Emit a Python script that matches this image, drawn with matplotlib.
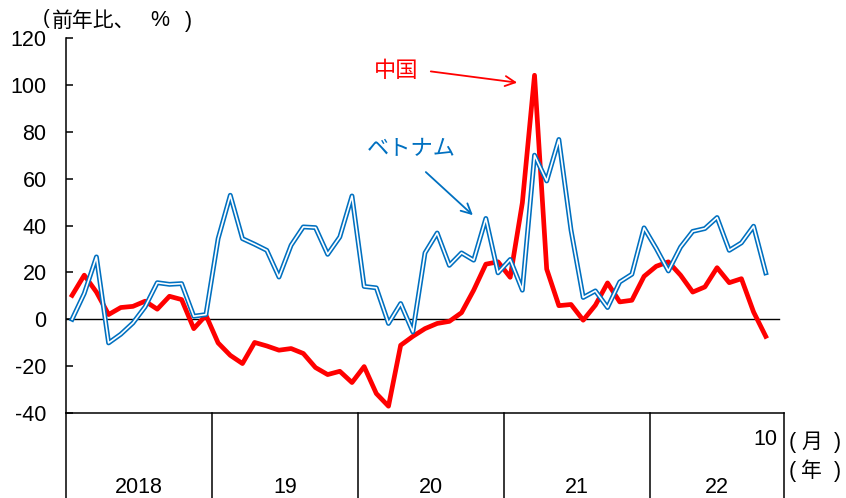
import matplotlib
matplotlib.use("Agg")
import matplotlib.pyplot as plt

plt.rcParams["font.family"] = ["Liberation Sans", "Noto Sans CJK JP", "DejaVu Sans"]
plt.rcParams["axes.unicode_minus"] = False

# monthly, Jan 2018 - Oct 2022 (y/y, %)
china = [10.2, 18.8, 11.6, 2.0, 5.0, 5.5, 7.7, 4.3, 9.8, 8.4, -4.0, 1.7,
         -10.1, -15.4, -18.9, -9.9, -11.4, -13.2, -12.5, -14.6, -20.6, -23.6, -22.2, -27.0,
         -20.2, -31.7, -37.1, -11.1, -7.3, -4.0, -1.8, -0.9, 2.8, 12.4, 23.5, 24.5,
         17.9, 49.7, 104.1, 21.4, 5.8, 6.3, -0.4, 6.0, 15.5, 7.4, 8.1, 18.3,
         22.6, 24.5, 18.8, 11.6, 13.8, 22.0, 15.6, 17.3, 3.1, -7.3]
vietnam = [0.0, 11.0, 26.6, -10.1, -6.4, -1.6, 5.3, 15.6, 14.9, 15.2, 1.3, 2.0,
           34.4, 52.9, 34.4, 32.0, 29.4, 18.0, 31.6, 39.4, 39.1, 27.7, 35.1, 52.6,
           14.0, 13.4, -1.8, 6.7, -5.4, 28.3, 36.8, 23.0, 28.3, 25.2, 43.0, 19.8,
           25.5, 12.4, 70.0, 59.0, 76.7, 38.0, 9.3, 12.1, 5.0, 15.9, 19.2, 39.0,
           30.2, 20.6, 30.8, 37.5, 38.7, 43.4, 29.4, 32.6, 39.7, 19.8]
year_labels = ["2018", "19", "20", "21", "22"]
yticks = [-40, -20, 0, 20, 40, 60, 80, 100, 120]

RED = "#ff0000"
BLUE = "#0070c0"
W, H = 846, 498


def ptext(px, py, s, **kw):
    # place text by pixel position in the figure
    fig.text(px / W, 1 - py / H, s, va="center", **kw)


fig = plt.figure(figsize=(W / 100, H / 100), dpi=100)
ax = fig.add_axes([66 / W, 85 / H, 718 / W, 375 / H])
ax.set_xlim(-0.5, 58.5)
ax.set_ylim(-40, 120)

x = list(range(len(china)))
ax.axhline(0, xmin=0, xmax=(58.1 + 0.5) / 59, color="black", lw=1.0, zorder=1)
ax.plot(x, china, color=RED, lw=3.4, zorder=3, solid_joinstyle="round")
ax.plot(x, vietnam, color=BLUE, lw=3.5, zorder=4)
ax.plot(x, vietnam, color="white", lw=1.2, zorder=5)

for s in ["top", "right", "bottom"]:
    ax.spines[s].set_visible(False)
ax.spines["left"].set_linewidth(1.1)
ax.set_xticks([])
ax.set_yticks(yticks)
ax.set_yticklabels([str(v) for v in yticks])
ax.tick_params(axis="y", direction="in", length=5, width=1.1, pad=14, labelsize=15.5)

# year boxes under the plot
bounds = [-0.5, 11.5, 23.5, 35.5, 47.5, 58.5]
ax.plot([-0.5, 58.5], [-40, -40], color="black", lw=1.1, clip_on=False)
for xb in bounds:
    ax.plot([xb, xb], [-40, -80], color="black", lw=1.1, clip_on=False)
for i, lab in enumerate(year_labels):
    ax.text((bounds[i] + bounds[i + 1]) / 2, -71.6, lab, ha="center", va="center",
            fontsize=15.5, clip_on=False)
ax.text(57, -51.5, "10", ha="center", va="center", fontsize=15.5, clip_on=False)

ptext(789, 442, "(", fontsize=15.5)
ptext(801, 442, "月", fontsize=15)
ptext(834, 442, ")", fontsize=15.5)
ptext(789, 471, "(", fontsize=15.5)
ptext(801, 471, "年", fontsize=15)
ptext(834, 471, ")", fontsize=15.5)

ptext(43, 18, "(", fontsize=14.5)
ptext(52, 21, "前年比、", fontsize=15)
ptext(150, 21, "%", fontsize=15.5)
ptext(185, 21, ")", fontsize=15.5)

# annotations
ax.annotate("", xy=(36.8, 100.8), xytext=(29.25, 105.9),
            arrowprops=dict(arrowstyle="->", color=RED, lw=1.3, mutation_scale=18))
ax.text(26.6, 105.8, "中国", color=RED, ha="center", va="center", fontsize=16)
ax.annotate("", xy=(33.1, 43.6), xytext=(28.9, 63.6),
            arrowprops=dict(arrowstyle="->", color=BLUE, lw=1.3, mutation_scale=18))
ax.text(27.9, 72.5, "ベトナム", color=BLUE, ha="center", va="center", fontsize=16)

fig.savefig("out.png", dpi=100)
